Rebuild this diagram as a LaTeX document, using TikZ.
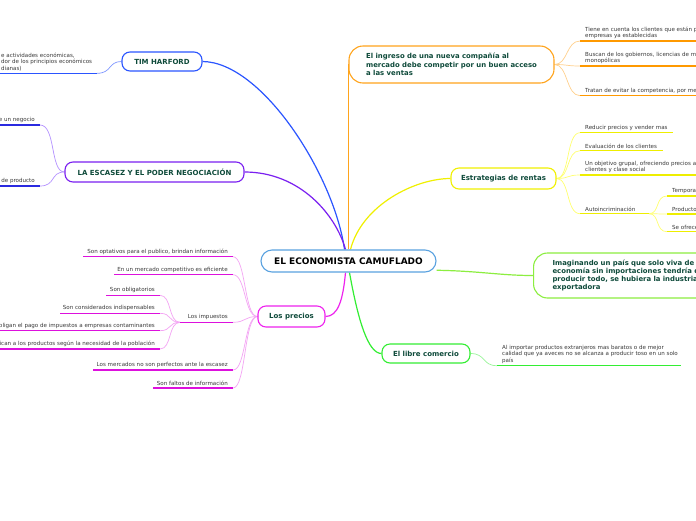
\documentclass[tikz,border=0pt]{standalone}
\usepackage{fontspec}
\setmainfont{DejaVu Sans}
\usetikzlibrary{backgrounds,calc}
\definecolor{ntext}{HTML}{0E4A3A}
\definecolor{ltext}{HTML}{3A3A3A}
\definecolor{cblue}{HTML}{5AA2E0}
\definecolor{tblue}{HTML}{2B55FF}
\definecolor{tblueL}{HTML}{8098FF}
\definecolor{purp}{HTML}{7A1FF0}
\definecolor{purpL}{HTML}{B592FF}
\definecolor{escU}{HTML}{2A2AE0}
\definecolor{orng}{HTML}{FFA41C}
\definecolor{orngL}{HTML}{FFD08C}
\definecolor{orngU}{HTML}{FF9900}
\definecolor{yell}{HTML}{F0F000}
\definecolor{yellL}{HTML}{FFFF70}
\definecolor{yellU}{HTML}{EEEE00}
\definecolor{lime}{HTML}{8CEE40}
\definecolor{grn}{HTML}{33EE33}
\definecolor{grnL}{HTML}{99F599}
\definecolor{mag}{HTML}{EE22EE}
\definecolor{magL}{HTML}{F4A4F4}
\definecolor{magU}{HTML}{DD11DD}
\tikzset{
 topic/.style={draw, line width=1.1pt, rounded corners=8pt, fill=white, text=ntext, font=\bfseries\fontsize{7}{8}\selectfont, inner sep=0pt, align=center},
 leaftxt/.style={text=ltext, font=\fontsize{5.55}{6.3}\selectfont, inner sep=0pt},
 uline/.style={line width=1.5pt},
 twig/.style={line width=0.7pt},
 branch/.style={line width=1.2pt},
}
\newcommand\leafR[6]{%
 \coordinate (#1-s) at (#2,#4); \coordinate (#1-e) at (#3,#4);
 \draw[uline,#5] (#1-s) -- (#1-e);
 \node[leaftxt,anchor=south west,align=left] (#1) at ($(#1-s)+(5,-2.2)$) {#6};}
\newcommand\leafL[6]{%
 \coordinate (#1-s) at (#2,#4); \coordinate (#1-e) at (#3,#4);
 \draw[uline,#5] (#1-s) -- (#1-e);
 \node[leaftxt,anchor=south east,align=right] (#1) at ($(#1-e)+(-5,-2.2)$) {#6};}
\begin{document}
\begin{tikzpicture}[x=1pt,y=-1pt]
\useasboundingbox (0,0) rectangle (696,520);
\clip (0,0) rectangle (696,520);
% topics
\node[topic, draw=cblue, rounded corners=11pt, minimum width=175pt, minimum height=22pt, text=black, font=\bfseries\fontsize{9}{10}\selectfont] (c) at (348.5,261) {EL ECONOMISTA CAMUFLADO};
\node[topic, draw=tblue, minimum width=80pt, minimum height=19pt] (tim) at (162,61.5) {TIM HARFORD};
\node[topic, draw=purp, minimum width=179pt, minimum height=20pt] (esc) at (154.5,172) {LA ESCASEZ Y EL PODER NEGOCIACIÓN};
\node[topic, draw=mag, minimum width=67pt, minimum height=21pt] (pre) at (291.5,316.5) {Los precios};
\node[topic, draw=orng, rounded corners=14pt, minimum width=205pt, minimum height=37pt, align=left, font=\bfseries\fontsize{6.9}{8.3}\selectfont] (ing) at (451.5,64.5) {El ingreso de una nueva compañía al\\mercado debe competir por un buen acceso\\a las ventas};
\node[topic, draw=yell, minimum width=105pt, minimum height=21pt] (est) at (503.5,178.5) {Estrategias de rentas};
\node[topic, draw=lime, rounded corners=14pt, anchor=west, minimum height=45pt, text width=200pt, align=left, inner xsep=19pt, font=\bfseries\fontsize{6.9}{8}\selectfont] (ima) at (533,275.5) {Imaginando un país que solo viva de\\economía sin importaciones tendría q\\producir todo, se hubiera la industria\\exportadora};
\node[topic, draw=grn, minimum width=88pt, minimum height=19pt] (lib) at (426,353.5) {El libre comercio};
% TIM leaf
\coordinate (t1-s) at (-5,73.3); \coordinate (t1-e) at (97,73.3);
\draw[uline,tblue] (t1-s) -- (t1-e);
\node[leaftxt,anchor=south west,align=left] (t1) at (1,71.1) {e actividades económicas,\\dor de los principios económicos\\dianas)};
% escasez leaves
\leafL{e1}{-5}{40}{125}{escU}{e un negocio}
\leafL{e2}{-5}{40}{186}{escU}{de producto}
% orange leaves
\leafR{o1}{580}{720}{41}{orngU}{Tiene en cuenta los clientes que están p\\empresas ya establecidas}
\leafR{o2}{580}{720}{66}{orngU}{Buscan de los gobiernos, licencias de mo\\monopólicas}
\leafR{o3}{580}{720}{95.7}{orngU}{Tratan de evitar la competencia, por me}
% yellow leaves
\leafR{y1}{580}{673}{132.7}{yellU}{Reducir precios y vender mas}
\leafR{y2}{580}{663}{150.7}{yellU}{Evaluación de los clientes}
\leafR{y3}{580}{720}{175}{yellU}{Un objetivo grupal, ofreciendo precios a\\clientes y clase social}
\leafR{y4}{580}{649}{213.7}{yellU}{Autoincriminación}
\leafR{y5}{667}{720}{196}{yellU}{Temporad}
\leafR{y6}{667}{720}{214}{yellU}{Productos}
\leafR{y7}{667}{720}{231.7}{yellU}{Se ofrece}
% libre comercio leaf
\leafR{lb}{497}{681}{365.7}{grn}{Al importar productos extranjeros mas baratos o de mejor\\calidad que ya aveces no se alcanza a producir toso en un solo\\país}
% magenta leaves
\leafL{m1}{83}{233}{256.7}{magU}{Son optativos para el publico, brindan información}
\leafL{m2}{114}{233}{274.7}{magU}{En un mercado competitivo es eficiente}
\leafL{imp}{180}{233}{322.3}{magU}{Los impuestos}
\leafL{m3}{93}{233}{370}{magU}{Los mercados no son perfectos ante la escasez}
\leafL{m4}{153}{233}{388}{magU}{Son faltos de información}
\leafL{s1}{106}{160}{295.3}{magU}{Son obligatorios}
\leafL{s2}{60}{160}{313.3}{magU}{Son considerados indispensables}
\leafL{s3}{-5}{160}{330.7}{magU}{bligan el pago de impuestos a empresas contaminantes}
\leafL{s4}{-5}{160}{349}{magU}{lican a los productos según la necesidad de la población}
% connectors
\begin{scope}[on background layer]
\fill[white] (0,0) rectangle (696,520);
\draw[branch,tblue] (tim.east) .. controls (262,62) and (334,175) .. ([xshift=-4pt]c.north);
\draw[branch,purp] (esc.east) .. controls (300,172) and (336,215) .. ([xshift=-3pt]c.north);
\draw[branch,orng] (c.north) |- (ing.west);
\draw[branch,yell] ([xshift=2pt]c.north) .. controls (362,205) and (415,178.5) .. (est.west);
\draw[branch,lime] (c.-6) .. controls (480,271) and (500,275.5) .. (ima.west);
\draw[branch,grn] ([xshift=1pt]c.south) .. controls (358,320) and (368,353.5) .. (lib.west);
\draw[branch,mag] ([xshift=-3pt]c.south) .. controls (343,300) and (338,316.5) .. (pre.east);
% twigs
\draw[twig,tblueL] (t1-e) .. controls (112,73.3) and (108,61.5) .. (tim.west);
\draw[twig,purpL] (e1-e) .. controls (56,125) and (50,172) .. (esc.west);
\draw[twig,purpL] (e2-e) .. controls (56,186) and (50,172) .. (esc.west);
\foreach \n/\y in {o1/41,o2/66,o3/95.7}
  \draw[twig,orngL] (ing.east) .. controls (568,64.5) and (566,\y) .. (\n-s);
\foreach \n/\y in {y1/132.7,y2/150.7,y3/175,y4/213.7}
  \draw[twig,yellL] (est.east) .. controls (570,178.5) and (566,\y) .. (\n-s);
\foreach \n/\y in {y5/196,y6/214,y7/231.7}
  \draw[twig,yellL] (y4-e) .. controls (660,213.7) and (655,\y) .. (\n-s);
\draw[twig,grnL] (lib.east) .. controls (486,353.5) and (482,365.7) .. (lb-s);
\foreach \n/\y in {m1/256.7,m2/274.7,imp/322.3,m3/370,m4/388}
  \draw[twig,magL] (pre.west) .. controls (244,316.5) and (246,\y) .. (\n-e);
\foreach \n/\y in {s1/295.3,s2/313.3,s3/330.7,s4/349}
  \draw[twig,magL] (imp-s) .. controls (168,322.3) and (172,\y) .. (\n-e);
\end{scope}
\end{tikzpicture}
\end{document}
